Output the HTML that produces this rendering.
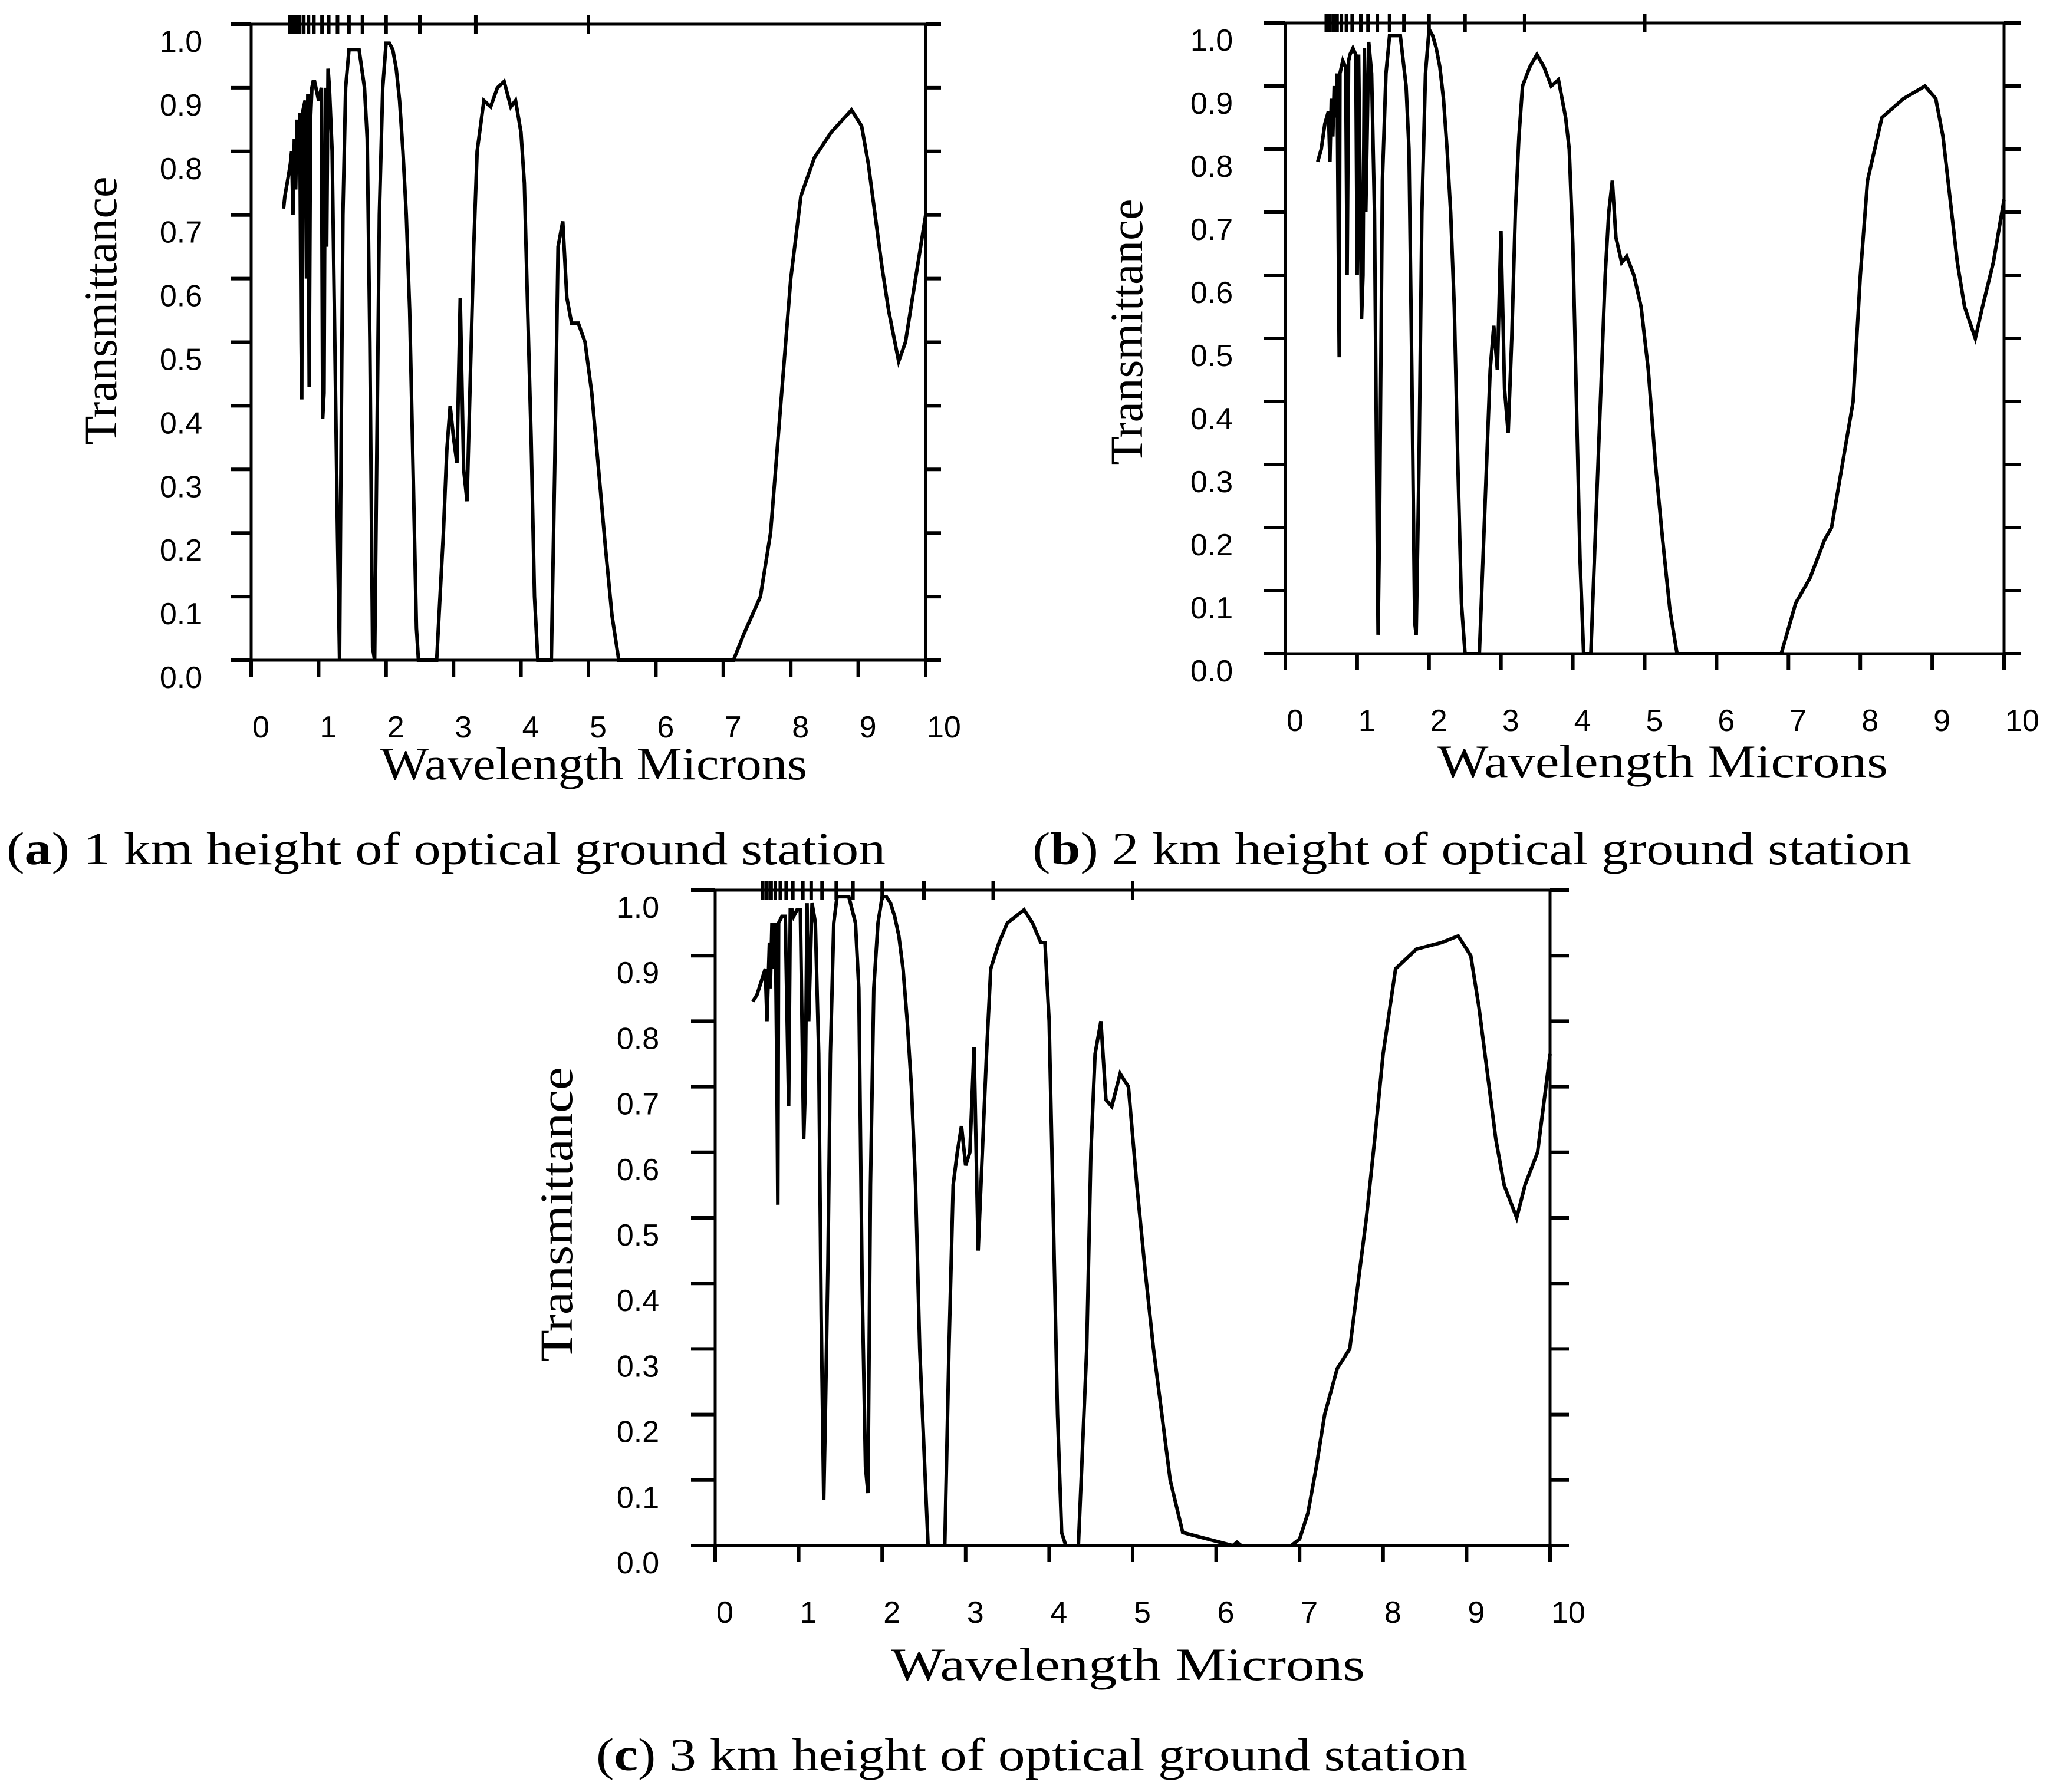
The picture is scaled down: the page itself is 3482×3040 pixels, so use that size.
<!DOCTYPE html>
<html><head><meta charset="utf-8"><style>
html,body{margin:0;padding:0;background:#fff;}
svg{display:block;}
text{fill:#000;}
.tk{font-family:"Liberation Sans",sans-serif;font-size:52px;}
.ttl{font-family:"Liberation Serif",serif;font-size:78px;}
</style></head><body>
<svg id="fig" width="3482" height="3040" viewBox="0 0 3482 3040" xmlns="http://www.w3.org/2000/svg">
<rect width="3482" height="3040" fill="#fff"/>
</svg>
<script>
// ---- data (wavelength microns / transmittance) ----
const xTicks = [0,1,2,3,4,5,6,7,8,9,10];
const yTicks = [0.0,0.1,0.2,0.3,0.4,0.5,0.6,0.7,0.8,0.9,1.0];
const topTicks = [0.57,0.62,0.67,0.72,0.78,0.85,0.93,1.05,1.15,1.28,1.45,1.65,2.0,2.5,3.33,5.0];

const wlA = [0.48,0.5,0.55,0.58,0.6,0.62,0.64,0.66,0.68,0.70,0.72,0.74,0.75,0.76,0.78,0.8,0.82,0.84,0.86,0.88,0.9,0.92,0.94,0.96,1.0,1.04,1.06,1.08,1.1,1.12,1.14,1.16,1.2,1.24,1.28,1.31,1.33,1.36,1.4,1.45,1.5,1.6,1.68,1.72,1.76,1.8,1.83,1.86,1.9,1.95,2.0,2.05,2.1,2.15,2.2,2.25,2.3,2.35,2.4,2.45,2.48,2.75,2.85,2.9,2.95,3.0,3.05,3.1,3.15,3.2,3.25,3.3,3.35,3.45,3.55,3.65,3.75,3.85,3.92,4.0,4.05,4.1,4.15,4.2,4.25,4.45,4.5,4.55,4.62,4.68,4.75,4.85,4.95,5.05,5.15,5.25,5.35,5.45,7.15,7.3,7.55,7.7,7.85,8.0,8.15,8.35,8.6,8.9,9.05,9.15,9.25,9.35,9.45,9.6,9.7,9.85,10.0];
const trA = [0.71,0.73,0.76,0.78,0.8,0.70,0.82,0.74,0.85,0.78,0.86,0.5,0.41,0.86,0.87,0.88,0.6,0.89,0.43,0.85,0.9,0.91,0.91,0.9,0.88,0.9,0.38,0.42,0.9,0.65,0.93,0.9,0.8,0.5,0.2,0,0.3,0.7,0.9,0.96,0.96,0.96,0.9,0.82,0.5,0.02,0,0.3,0.7,0.9,0.97,0.97,0.96,0.93,0.88,0.8,0.7,0.55,0.3,0.05,0,0,0.2,0.33,0.4,0.35,0.31,0.57,0.3,0.25,0.45,0.65,0.8,0.88,0.87,0.9,0.91,0.87,0.88,0.83,0.75,0.55,0.35,0.1,0,0,0.3,0.65,0.69,0.57,0.53,0.53,0.5,0.42,0.3,0.18,0.07,0,0,0.04,0.1,0.2,0.4,0.6,0.73,0.79,0.83,0.865,0.84,0.78,0.7,0.62,0.55,0.47,0.5,0.6,0.7];

const wlB = [0.45,0.5,0.55,0.6,0.62,0.64,0.66,0.68,0.70,0.72,0.74,0.75,0.76,0.8,0.84,0.86,0.88,0.9,0.94,0.98,1.0,1.02,1.06,1.08,1.1,1.12,1.16,1.2,1.24,1.27,1.29,1.31,1.35,1.4,1.45,1.5,1.6,1.68,1.72,1.76,1.8,1.82,1.86,1.9,1.95,2.0,2.05,2.1,2.15,2.2,2.25,2.3,2.35,2.4,2.45,2.5,2.7,2.8,2.85,2.9,2.95,3.0,3.05,3.1,3.15,3.2,3.25,3.3,3.4,3.5,3.6,3.7,3.8,3.9,3.95,4.0,4.05,4.1,4.15,4.2,4.25,4.35,4.45,4.5,4.55,4.6,4.68,4.75,4.85,4.95,5.05,5.15,5.25,5.35,5.45,5.55,6.9,7.1,7.3,7.5,7.6,7.75,7.9,8.0,8.1,8.3,8.6,8.9,9.05,9.15,9.25,9.35,9.45,9.6,9.7,9.85,10.0];
const trB = [0.78,0.8,0.84,0.86,0.78,0.88,0.82,0.9,0.85,0.92,0.6,0.47,0.92,0.94,0.93,0.6,0.94,0.95,0.96,0.95,0.6,0.95,0.53,0.6,0.96,0.7,0.97,0.92,0.7,0.3,0.03,0.2,0.75,0.92,0.98,0.98,0.98,0.9,0.8,0.45,0.05,0.03,0.3,0.7,0.92,0.99,0.98,0.96,0.93,0.88,0.8,0.7,0.55,0.3,0.08,0,0,0.3,0.45,0.52,0.45,0.67,0.42,0.35,0.5,0.7,0.82,0.9,0.93,0.95,0.93,0.9,0.91,0.85,0.8,0.65,0.4,0.15,0,0,0,0.3,0.6,0.7,0.75,0.66,0.62,0.63,0.6,0.55,0.45,0.3,0.18,0.07,0,0,0,0.08,0.12,0.18,0.2,0.3,0.4,0.6,0.75,0.85,0.88,0.9,0.88,0.82,0.72,0.62,0.55,0.5,0.55,0.62,0.72];

const wlC = [0.45,0.5,0.55,0.6,0.62,0.65,0.66,0.68,0.70,0.72,0.74,0.75,0.76,0.8,0.84,0.88,0.9,0.92,0.94,0.98,1.02,1.06,1.08,1.1,1.12,1.16,1.2,1.24,1.27,1.3,1.32,1.35,1.38,1.42,1.46,1.5,1.6,1.68,1.72,1.76,1.8,1.83,1.86,1.9,1.95,2.0,2.05,2.1,2.15,2.2,2.25,2.3,2.35,2.4,2.45,2.55,2.75,2.8,2.85,2.9,2.95,3.0,3.05,3.1,3.15,3.2,3.25,3.3,3.4,3.5,3.6,3.7,3.8,3.9,3.95,4.0,4.05,4.1,4.15,4.2,4.25,4.35,4.45,4.5,4.55,4.62,4.68,4.75,4.85,4.95,5.05,5.15,5.25,5.35,5.45,5.6,6.2,6.25,6.3,6.9,7.0,7.1,7.2,7.3,7.45,7.6,7.7,7.8,7.9,8.0,8.15,8.4,8.7,8.9,9.05,9.15,9.25,9.35,9.45,9.6,9.7,9.85,10.0];
const trC = [0.83,0.84,0.86,0.88,0.8,0.92,0.85,0.95,0.88,0.95,0.7,0.52,0.95,0.96,0.96,0.67,0.97,0.97,0.96,0.97,0.97,0.62,0.7,0.98,0.8,0.98,0.95,0.75,0.35,0.07,0.2,0.43,0.75,0.95,0.99,0.99,0.99,0.95,0.85,0.4,0.12,0.08,0.55,0.85,0.95,0.99,0.99,0.98,0.96,0.93,0.88,0.8,0.7,0.55,0.3,0,0,0.3,0.55,0.6,0.64,0.58,0.6,0.76,0.45,0.6,0.75,0.88,0.92,0.95,0.96,0.97,0.95,0.92,0.92,0.8,0.5,0.2,0.02,0,0,0,0.3,0.6,0.75,0.8,0.68,0.67,0.72,0.7,0.55,0.42,0.3,0.2,0.1,0.02,0,0.005,0,0,0.01,0.05,0.12,0.2,0.27,0.3,0.4,0.5,0.62,0.75,0.88,0.91,0.92,0.93,0.9,0.82,0.72,0.62,0.55,0.5,0.55,0.6,0.75];

const NS = "http://www.w3.org/2000/svg";
const svg = document.getElementById('fig');
function mk(tag, attrs, parent){
  const e = document.createElementNS(NS, tag);
  for (const k in attrs) e.setAttribute(k, attrs[k]);
  (parent||svg).appendChild(e);
  return e;
}
const panels = [
  {id:'a', L:426, R:1570, T:41, B:1120, extL:392, extR:1596, ylx:307, tx:171, ty:527, tlen:455, wx:1007, wy:1322, wlen:724, cx:11, cy:1466, clen:1491, num:'1', wl:wlA, tr:trA},
  {id:'b', L:2180, R:3399, T:39, B:1109, extL:2144, extR:3428, ylx:2055, tx:1911, ty:563, tlen:451, wx:2820, wy:1318, wlen:764, cx:1751, cy:1466, clen:1491, num:'2', wl:wlB, tr:trB},
  {id:'c', L:1213, R:2629, T:1510, B:2622, extL:1172, extR:2661, ylx:1082, tx:944, ty:2060, tlen:500, wx:1913, wy:2850, wlen:804, cx:1011, cy:3003, clen:1478, num:'3', wl:wlC, tr:trC}
];
panels.forEach(p => {
  const g = mk('g', {});
  
  
  const sx = v => p.L + (p.R - p.L) * v / 10;
  const sy = v => p.B - (p.B - p.T) * v;
  const st = {stroke:'#000','stroke-width':5,fill:'none'};
  const fr = mk('path', Object.assign({d:`M${p.extL},${p.T}H${p.R}M${p.extL},${p.B}H${p.extR}M${p.L},${p.T}V${p.B}M${p.R},${p.T}V${p.B}`}, st), g);
  
  
  let d = '';
  yTicks.forEach(v => { const y = sy(v); d += `M${p.extL},${y}H${p.L}M${p.R},${y}H${p.extR}`; });
  xTicks.forEach(v => { const x = sx(v); d += `M${x},${p.B}V${p.B+28}`; });
  topTicks.forEach(v => { const x = sx(v); d += `M${x},${p.T-16}V${p.T+16}`; });
  const tk = mk('path', Object.assign({d:d}, st, {'stroke-width':6}), g);
  
  
  yTicks.forEach(v => {
    const t = mk('text', {x:p.ylx, y:sy(v)+47, 'text-anchor':'middle', class:'tk'}, g);
    t.textContent = v.toFixed(1);
    
    
  });
  xTicks.forEach(v => {
    const t = mk('text', {x:sx(v)+2, y:p.B+131, class:'tk'}, g);
    t.textContent = String(v);
    
    
  });
  let pd = '';
  p.wl.forEach((w, i) => { pd += (i ? 'L' : 'M') + sx(w).toFixed(1) + ',' + sy(p.tr[i]).toFixed(1); });
  const ln = mk('path', {d:pd, stroke:'#000', 'stroke-width':6, fill:'none', 'stroke-linejoin':'miter'}, g);
  
  
  const yt = mk('text', {x:0, y:0, class:'ttl', 'text-anchor':'middle', transform:`translate(${p.tx+26},${p.ty}) rotate(-90)`, textLength:p.tlen, lengthAdjust:'spacingAndGlyphs'}, g);
  yt.textContent = 'Transmittance';
  
  
  const xt = mk('text', {x:p.wx, y:p.wy, class:'ttl', 'text-anchor':'middle', textLength:p.wlen, lengthAdjust:'spacingAndGlyphs'}, g);
  xt.textContent = 'Wavelength Microns';
  
  
  const cp = mk('text', {x:p.cx, y:p.cy, class:'ttl', textLength:p.clen, lengthAdjust:'spacingAndGlyphs'}, g);
  
  
  const t1 = mk('tspan', {}, cp); t1.textContent = '(';
  const t2 = mk('tspan', {'font-weight':'bold'}, cp); t2.textContent = p.id;
  const t3 = mk('tspan', {}, cp); t3.textContent = ') ' + p.num + ' km height of optical ground station';
});
</script>
</body></html>
